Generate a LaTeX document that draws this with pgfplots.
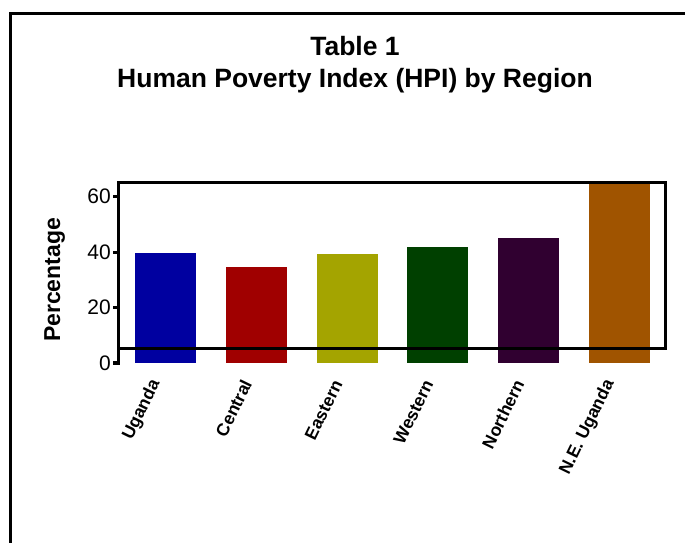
\documentclass[border=0pt]{standalone}
\usepackage{pgfplots}
\pgfplotsset{compat=1.18}
\usepackage{fontspec}
\setmainfont{Liberation Sans}
\definecolor{cUg}{RGB}{0,0,160}
\definecolor{cCe}{RGB}{160,0,0}
\definecolor{cEa}{RGB}{164,164,0}
\definecolor{cWe}{RGB}{0,64,0}
\definecolor{cNo}{RGB}{48,0,48}
\definecolor{cNE}{RGB}{160,84,0}
\begin{document}
\begin{tikzpicture}
\useasboundingbox (0,0) rectangle (685bp,543bp);
\draw[line width=3bp] (10.5bp,0) -- (10.5bp,529.5bp) -- (685bp,529.5bp);
\node[anchor=base, font=\fontsize{26.5bp}{30bp}\selectfont\bfseries] at (355bp,487bp) {Table 1};
\node[anchor=base, font=\fontsize{26.5bp}{30bp}\selectfont\bfseries] at (355bp,455bp) {Human Poverty Index (HPI) by Region};
\begin{axis}[
  at={(118bp,180bp)}, anchor=south west,
  scale only axis, width=547bp, height=181bp,
  xmin=-0.523, xmax=5.5, ymin=0, ymax=65.3,
  clip=false,
  axis line style={draw=none},
  ytick={0,20,40,60}, ytick pos=left,
  tick align=outside, major tick length=5bp,
  ytick style={line width=3bp, black},
  xtick={0,1,2,3,4,5}, xtick pos=bottom,
  xticklabels={Uganda,Central,Eastern,Western,Northern,N.E. Uganda},
  xtick style={draw=none},
  xticklabel style={xshift=-9bp, yshift=-6bp, rotate=64, anchor=east, font=\fontsize{17.5bp}{20bp}\selectfont\bfseries, inner sep=1bp},
  xticklabel shift=6bp,
  yticklabel style={font=\fontsize{21bp}{22bp}\selectfont, inner sep=2bp},
  /pgf/number format/assume math mode=true,
  ylabel={Percentage},
  ylabel style={at={(axis description cs:-0.116,0.459)}, anchor=center, font=\fontsize{23bp}{25bp}\selectfont\bfseries},
  ybar, bar width=0.672, bar shift=0pt,
]
\addplot[fill=cUg, draw=none] coordinates {(0,39.8)};
\addplot[fill=cCe, draw=none] coordinates {(1,34.7)};
\addplot[fill=cEa, draw=none] coordinates {(2,39.4)};
\addplot[fill=cWe, draw=none] coordinates {(3,41.9)};
\addplot[fill=cNo, draw=none] coordinates {(4,45.2)};
\addplot[fill=cNE, draw=none] coordinates {(5,64.6)};
\draw[line width=3bp, line cap=rect] (rel axis cs:0,0) -- (rel axis cs:0,1) -- (rel axis cs:1,1) -- (axis cs:5.5,5.4) -- (axis cs:-0.523,5.4);
\end{axis}
\end{tikzpicture}
\end{document}
